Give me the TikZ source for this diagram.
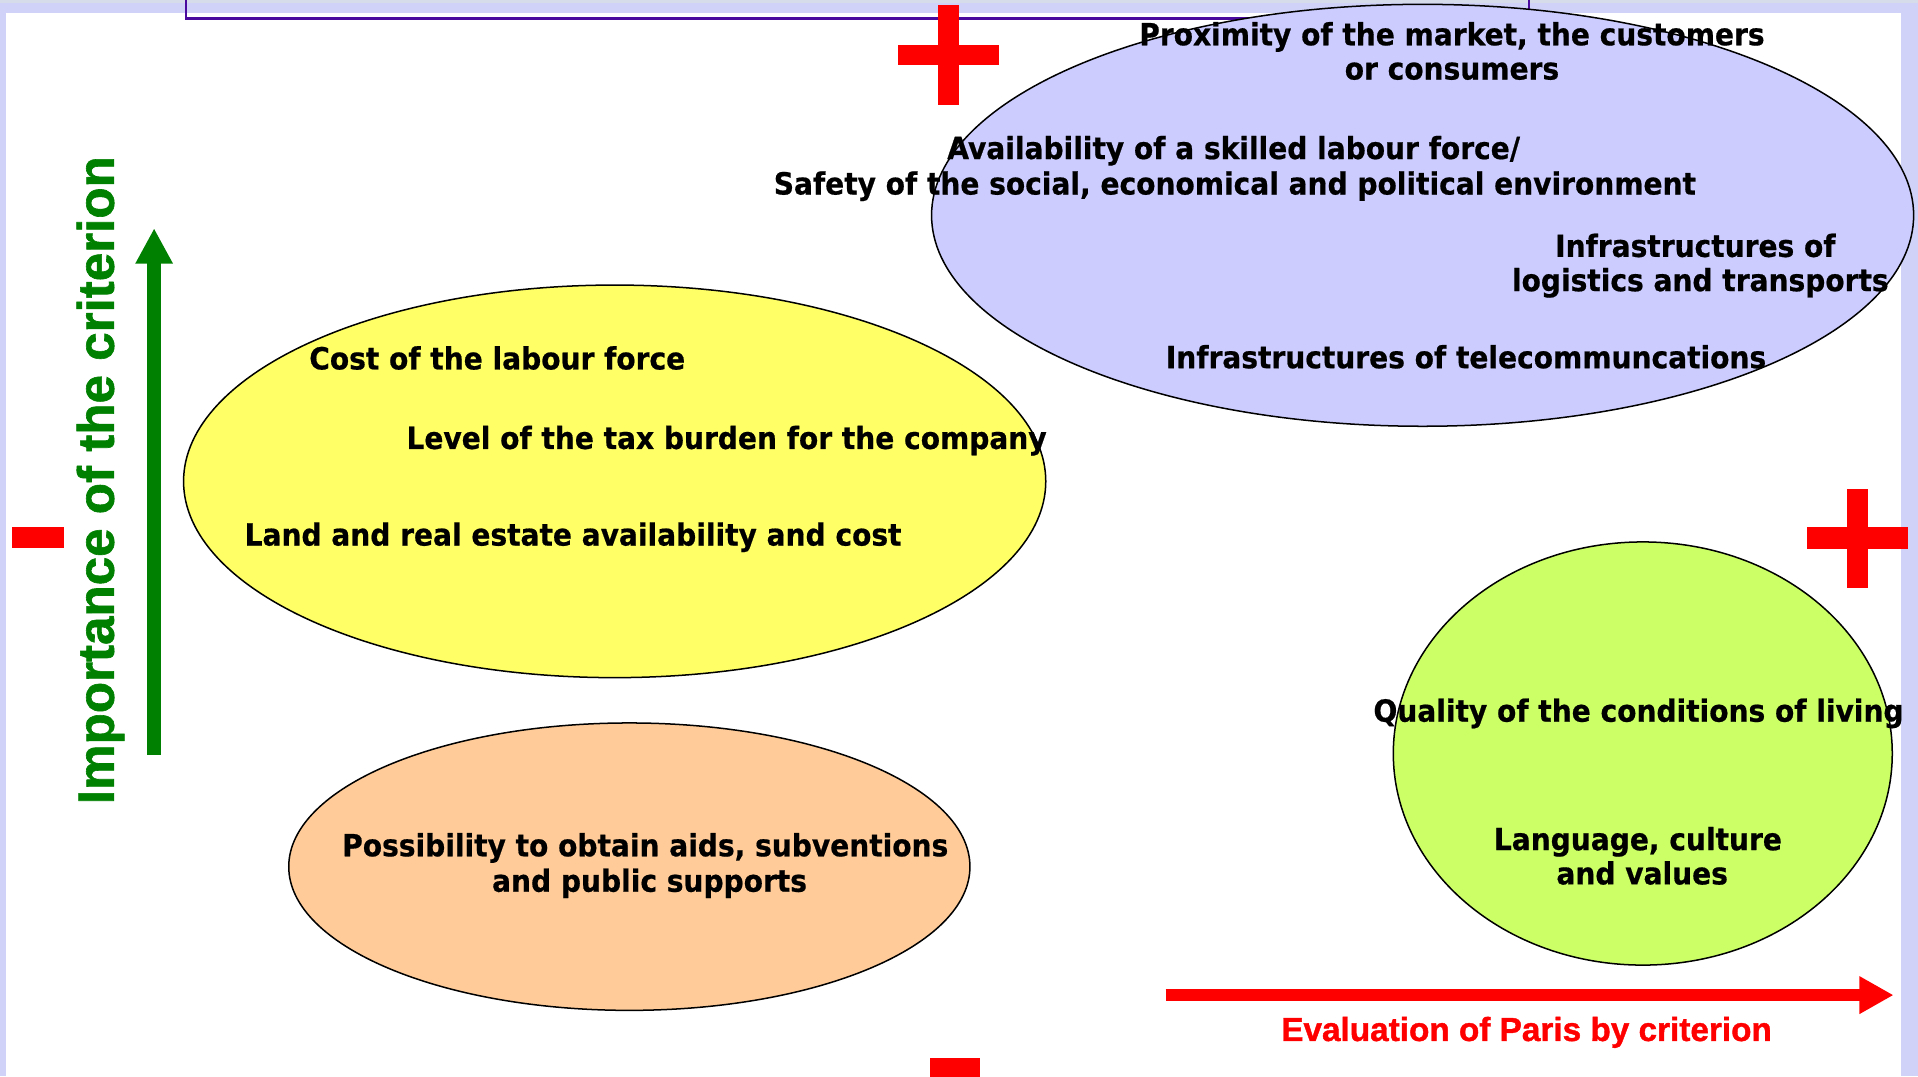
\documentclass[tikz,border=0pt]{standalone}
\usepackage{fontspec}
\usetikzlibrary{shapes.geometric,arrows.meta}
\newfontfamily\boxfont[FakeStretch=0.92,FakeBold=0.6]{DejaVu Sans Bold}
\newfontfamily\axisfont[FakeBold=1.2]{Liberation Sans Bold}
\definecolor{frame}{HTML}{D0D3F7}
\definecolor{topstrip}{HTML}{D6DCE9}
\definecolor{titleline}{HTML}{4B0A9E}
\definecolor{skyfill}{HTML}{CCCCFF}
\definecolor{lemonfill}{HTML}{FFFF66}
\definecolor{peachfill}{HTML}{FFCC99}
\definecolor{limefill}{HTML}{CCFF66}
\definecolor{axisgreen}{HTML}{008000}
\begin{document}
\begin{tikzpicture}[x=0.02cm,y=-0.02cm,
  blob/.style={ellipse,draw=black,line width=0.7pt,inner sep=0pt,outer sep=0pt},
  crit/.style={font=\boxfont\fontsize{14.2}{17}\selectfont,inner sep=0pt,anchor=base},
  signbar/.style={fill=red,draw=none},
  axislabel/.style={font=\axisfont,inner sep=0pt,anchor=base}]
\useasboundingbox (0,0) rectangle (1568,880);
% page frame
\fill[frame] (0,0) rectangle (1568,880);
\fill[topstrip] (0,0) rectangle (1568,2.7);
\fill[white] (5,10.5) rectangle (1554,880);
% title frame, its upper part lies above the page
\draw[titleline,line width=1.3pt] (152,-10) -- (152,15) -- (1250,15) -- (1250,-10);

% groups of criteria
\node[blob,fill=skyfill,minimum width=16.06cm,minimum height=6.9cm] (market) at (1163,176) {};
\node[blob,fill=lemonfill,minimum width=14.1cm,minimum height=6.42cm] (costs) at (502.5,393.5) {};
\node[blob,fill=peachfill,minimum width=11.14cm,minimum height=4.7cm] (aids) at (514.5,708.5) {};
\node[blob,fill=limefill,minimum width=8.16cm,minimum height=6.92cm] (living) at (1343,616) {};

% plus and minus signs
\fill[signbar] (767,4) rectangle (784,86);
\fill[signbar] (734,37) rectangle (817,53);
\fill[signbar] (1510,400) rectangle (1527,481);
\fill[signbar] (1477,431) rectangle (1560,449);
\fill[signbar] (10,431) rectangle (52,448);
\fill[signbar] (760,865) rectangle (801,890);

% criteria
\node[crit] (prox1) at (1187,37) {Proximity of the market, the customers};
\node[crit] (prox2) at (1187,65) {or consumers};
\node[crit] (skill1) at (1008.5,130) {Availability of a skilled labour force/};
\node[crit] (skill2) at (1009.5,159) {Safety of the social, economical and political environment};
\node[crit] (infra1) at (1386,210) {Infrastructures of};
\node[crit] (infra2) at (1390,238) {logistics and transports};
\node[crit] (telecom) at (1198.5,301) {Infrastructures of telecommuncations};
\node[crit] (labour) at (406.5,302) {Cost of the labour force};
\node[crit] (tax) at (594,367) {Level of the tax burden for the company};
\node[crit] (land) at (468.5,446) {Land and real estate availability and cost};
\node[crit] (aid1) at (527.5,700) {Possibility to obtain aids, subventions};
\node[crit] (aid2) at (531,729) {and public supports};
\node[crit] (quality) at (1339.5,590) {Quality of the conditions of living};
\node[crit] (lang1) at (1339,695) {Language, culture};
\node[crit] (lang2) at (1342.5,723) {and values};

% axes
\coordinate (vbase) at (126,617);
\coordinate (vtip) at (126,186.6);
\draw[axisgreen,line width=0.22cm,-{Triangle[length=0.58cm,width=0.574cm]}] (vbase) -- (vtip);
\node[axislabel,text=axisgreen,rotate=90,font=\axisfont\fontsize{23.8}{28}\selectfont] (vlabel) at (93,392.5) {Importance of the criterion};

\coordinate (hbase) at (953,813.5);
\coordinate (htip) at (1548,813.5);
\draw[red,line width=0.2cm,-{Triangle[length=0.56cm,width=0.58cm]}] (hbase) -- (htip);
\node[axislabel,text=red,font=\axisfont\fontsize{15.5}{18}\selectfont] (hlabel) at (1248,851) {Evaluation of Paris by criterion};
\end{tikzpicture}
\end{document}
